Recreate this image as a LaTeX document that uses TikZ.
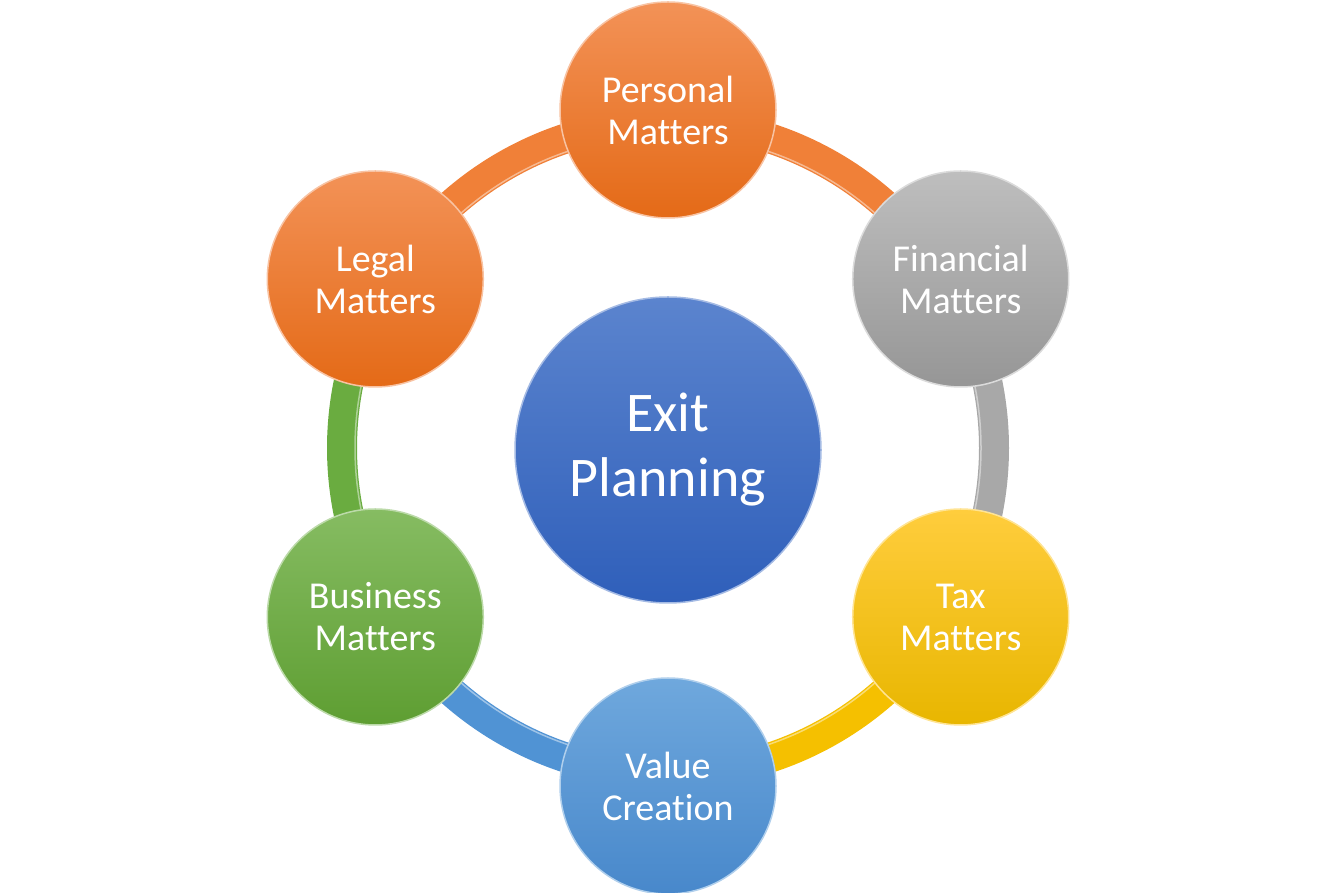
\documentclass[tikz,border=0pt]{standalone}
\usepackage{fontspec}
\setmainfont[Ligatures=NoCommon,RawFeature={-liga;-clig}]{Carlito}
\definecolor{orT}{RGB}{243,146,87}
\definecolor{orB}{RGB}{228,106,23}
\definecolor{orS}{RGB}{240,128,56}
\definecolor{grT}{RGB}{190,190,190}
\definecolor{grB}{RGB}{150,150,150}
\definecolor{grS}{RGB}{168,168,168}
\definecolor{yeT}{RGB}{255,205,61}
\definecolor{yeB}{RGB}{232,182,0}
\definecolor{yeS}{RGB}{245,192,0}
\definecolor{lbT}{RGB}{111,168,221}
\definecolor{lbB}{RGB}{72,136,203}
\definecolor{lbS}{RGB}{80,147,212}
\definecolor{gnT}{RGB}{134,188,98}
\definecolor{gnB}{RGB}{94,158,50}
\definecolor{gnS}{RGB}{106,172,64}
\definecolor{dbT}{RGB}{91,132,206}
\definecolor{dbB}{RGB}{47,95,186}
\begin{document}
\begin{tikzpicture}[x=1pt,y=1pt,
  bub/.style={circle, minimum size=216pt, inner sep=0pt, outer sep=0pt,
    text=white, align=center, font=\fontsize{38}{42}\selectfont,
    line width=1.5pt},
  hub/.style={circle, minimum size=306pt, inner sep=0pt, outer sep=0pt,
    text=white, align=center, font=\fontsize{56}{65}\selectfont,
    line width=1.5pt, top color=dbT, bottom color=dbB, draw=dbT!55!white},
  orangebub/.style={bub, top color=orT, bottom color=orB, draw=orT!55!white},
  graybub/.style={bub, top color=grT, bottom color=grB, draw=grT!55!white},
  yellowbub/.style={bub, top color=yeT, bottom color=yeB, draw=yeT!55!white},
  bluebub/.style={bub, top color=lbT, bottom color=lbB, draw=lbT!55!white},
  greenbub/.style={bub, top color=gnT, bottom color=gnB, draw=gnT!55!white},
  seg/.style={line width=30pt},
  seghi/.style={line width=1.5pt, white, opacity=0.45}
]
\useasboundingbox (0,0) rectangle (1335,893);
\coordinate (O) at (668,445);

% ring segments
\draw[seg, orS] ([shift={(90:326)}]O) arc[start angle=90, end angle=30, radius=326];
\draw[seg, grS] ([shift={(30:326)}]O) arc[start angle=30, end angle=-30, radius=326];
\draw[seg, yeS] ([shift={(-30:326)}]O) arc[start angle=-30, end angle=-90, radius=326];
\draw[seg, lbS] ([shift={(-90:326)}]O) arc[start angle=-90, end angle=-150, radius=326];
\draw[seg, gnS] ([shift={(-150:326)}]O) arc[start angle=-150, end angle=-210, radius=326];
\draw[seg, orS] ([shift={(150:326)}]O) arc[start angle=150, end angle=90, radius=326];
% inner highlight of the ring
\draw[seghi] ([shift={(90:313)}]O) arc[start angle=90, end angle=-270, radius=313];

% hub
\node[hub] (C) at (668,443) {Exit\\Planning};

% outer circles
\node[orangebub] (P) at ([shift={(90:338)}]O) {Personal\\Matters};
\node[graybub]   (F) at ([shift={(30:338)}]O) {Financial\\Matters};
\node[yellowbub] (T) at ([shift={(-30:338)}]O) {Tax\\Matters};
\node[bluebub]   (V) at ([shift={(-90:338)}]O) {Value\\Creation};
\node[greenbub]  (B) at ([shift={(-150:338)}]O) {Business\\Matters};
\node[orangebub] (L) at ([shift={(150:338)}]O) {Legal\\Matters};
\end{tikzpicture}
\end{document}
